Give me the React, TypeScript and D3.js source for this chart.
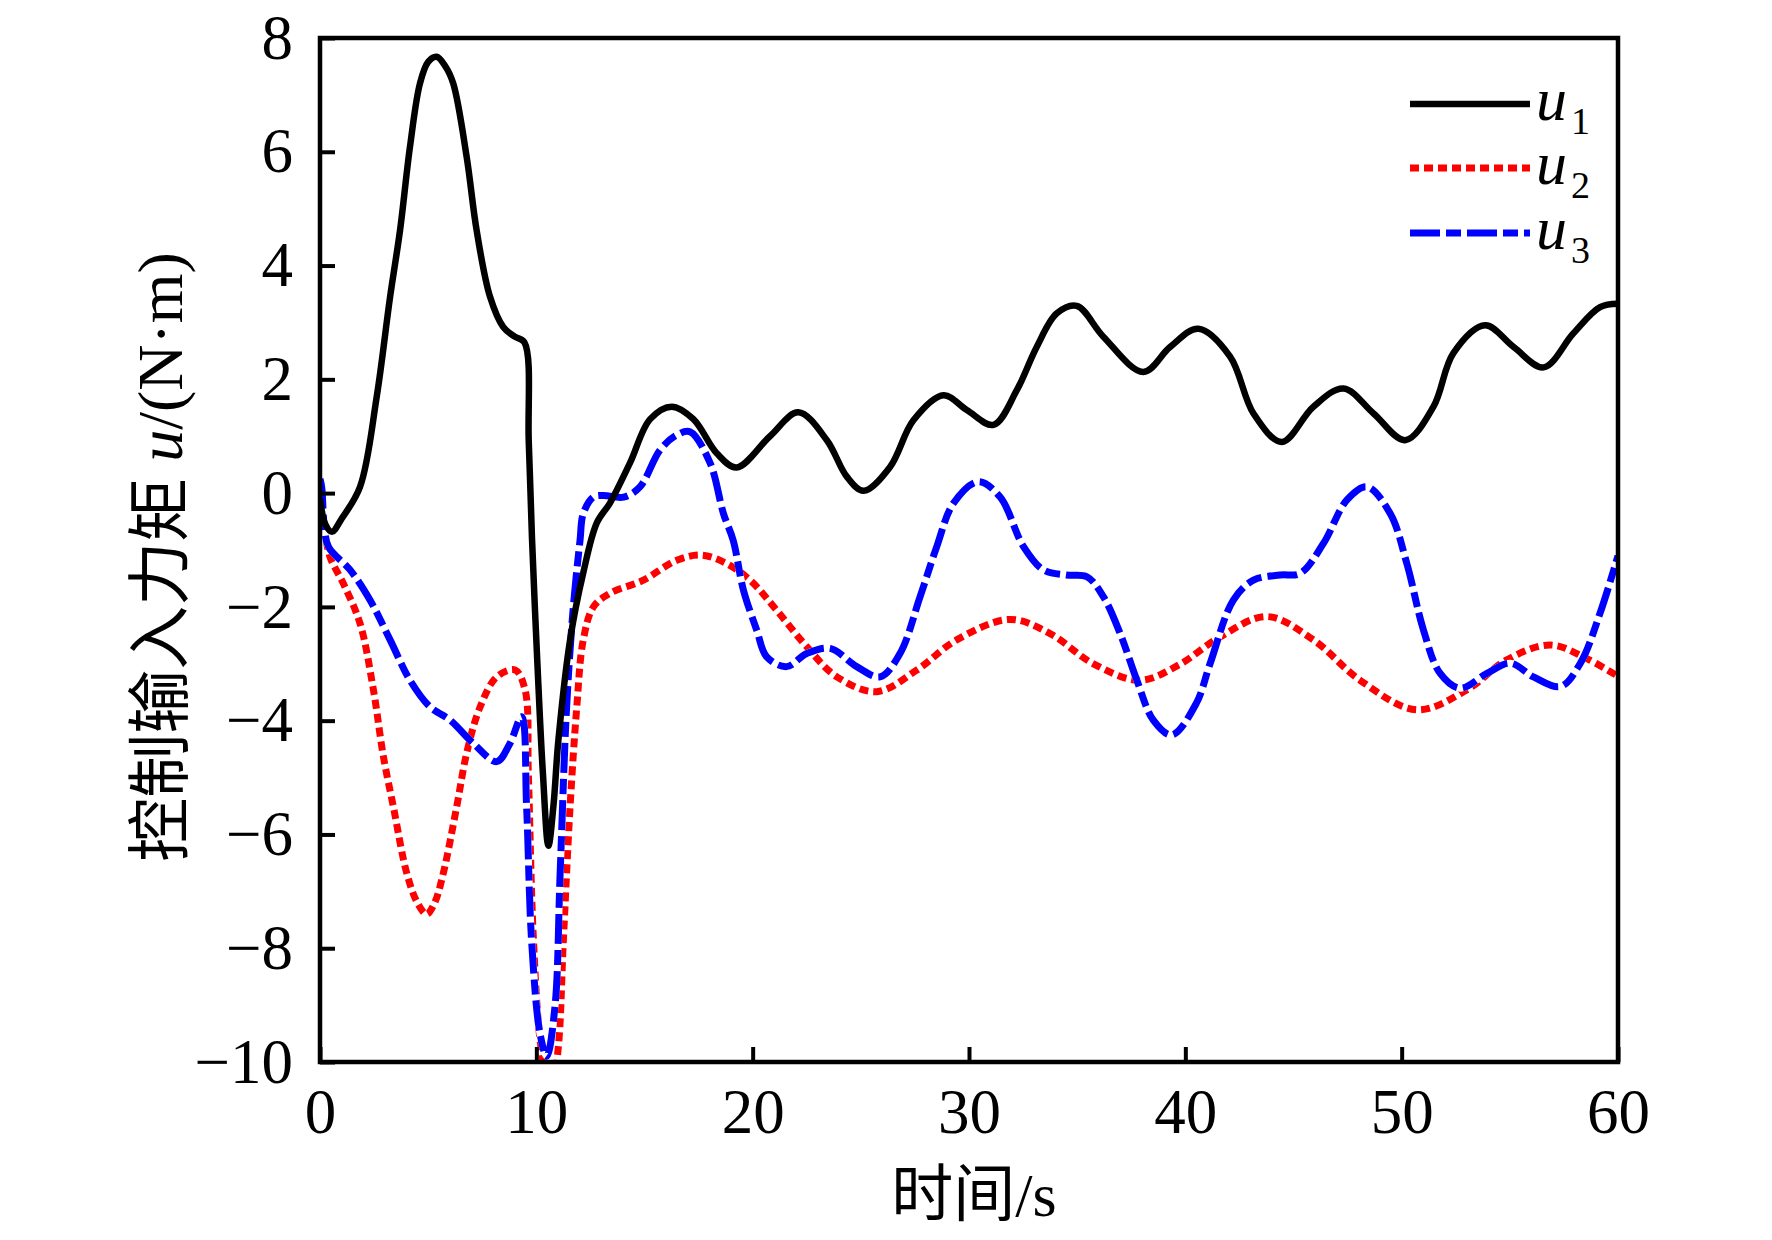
import { useEffect, useRef } from 'react'
import * as d3 from 'd3'

// time samples (s) and torque values (N·m)
const u1Time = [0, 0.25, 0.55, 1.0, 1.85, 2.62, 3.24, 3.7, 4.16, 4.62, 5.0, 5.39, 5.8, 6.16, 6.78, 7.24, 7.86, 8.47, 9.0, 9.45, 9.65, 9.8, 10.05, 10.3, 10.56, 10.79, 11.02, 11.56, 12.17, 12.8, 13.41, 14.33, 15.26, 16.26, 17.26, 18.34, 19.25, 20.8, 22.11, 23.43, 24.35, 25.12, 26.35, 27.43, 28.82, 29.9, 31.13, 32.21, 33.13, 34.06, 34.98, 36.21, 38.06, 39.3, 40.6, 42.07, 43.15, 44.46, 45.92, 47.31, 48.7, 50.16, 51.47, 52.39, 53.86, 55.17, 56.56, 57.94, 59.17, 60]
const u1Value = [-0.1, -0.55, -0.68, -0.45, 0.11, 1.69, 3.45, 4.62, 6.09, 7.2, 7.58, 7.67, 7.5, 7.2, 5.91, 4.62, 3.45, 2.92, 2.75, 2.65, 0.9, -0.8, -3.0, -4.9, -6.2, -5.5, -4.34, -2.58, -1.4, -0.52, -0.17, 0.53, 1.3, 1.52, 1.3, 0.7, 0.45, 1.0, 1.42, 0.93, 0.29, 0.04, 0.46, 1.28, 1.72, 1.46, 1.2, 1.81, 2.57, 3.16, 3.29, 2.75, 2.13, 2.57, 2.89, 2.4, 1.4, 0.9, 1.52, 1.84, 1.4, 0.93, 1.52, 2.46, 2.95, 2.57, 2.21, 2.81, 3.27, 3.33]

const u2Time = [0, 0.2, 0.46, 1.08, 1.85, 2.47, 2.93, 3.39, 4.01, 4.5, 4.93, 5.3, 5.7, 6.32, 6.78, 7.4, 8.17, 9.02, 9.48, 9.63, 9.86, 10.2, 10.65, 11.0, 11.25, 11.56, 11.87, 12.17, 12.64, 13.41, 14.95, 16.49, 17.64, 18.8, 19.88, 21.11, 22.5, 23.89, 25.74, 27.59, 29.43, 31.9, 33.75, 35.75, 37.91, 39.7, 41.6, 43.77, 45.92, 48.08, 50.7, 53.01, 54.86, 56.87, 58.56, 60]
const u2Value = [-0.1, -0.6, -1.12, -1.59, -2.29, -3.46, -4.63, -5.51, -6.68, -7.2, -7.4, -7.2, -6.68, -5.51, -4.57, -3.76, -3.23, -3.11, -3.46, -4.93, -7.8, -9.7, -10.6, -9.8, -7.86, -5.51, -3.76, -2.58, -2.0, -1.76, -1.53, -1.18, -1.09, -1.24, -1.53, -2.06, -2.7, -3.23, -3.49, -3.11, -2.58, -2.22, -2.47, -3.0, -3.29, -3.02, -2.53, -2.17, -2.58, -3.29, -3.81, -3.46, -2.93, -2.67, -2.91, -3.22]

const u3Time = [0, 0.08, 0.2, 0.4, 1.39, 2.31, 3.24, 4.16, 5.09, 6.01, 7.09, 8.17, 8.78, 9.32, 9.55, 9.78, 10.17, 10.48, 10.86, 11.1, 11.4, 11.71, 12.02, 12.17, 12.64, 13.1, 14.03, 14.79, 15.72, 16.49, 17.1, 18.03, 18.65, 19.1, 19.57, 20.19, 20.65, 21.57, 22.5, 23.58, 24.81, 25.89, 26.81, 27.74, 28.51, 29.28, 30.43, 31.44, 32.52, 33.44, 34.52, 35.45, 36.21, 36.99, 37.76, 38.52, 39.37, 40.5, 41.15, 42.22, 43.15, 44.38, 45.31, 46.39, 47.47, 48.39, 49.47, 50.24, 51.01, 51.78, 52.7, 53.94, 55.02, 56.09, 57.34, 58.26, 59.17, 60]
const u3Value = [0.25, 0.1, -0.6, -0.95, -1.35, -1.88, -2.58, -3.29, -3.76, -3.99, -4.4, -4.72, -4.4, -3.93, -5.51, -7.86, -9.5, -9.9, -9.03, -6.68, -3.76, -2.0, -0.83, -0.36, -0.07, -0.04, -0.07, 0.11, 0.76, 1.02, 1.08, 0.53, -0.36, -0.83, -1.7, -2.41, -2.88, -3.05, -2.82, -2.73, -3.05, -3.23, -2.82, -1.82, -0.94, -0.18, 0.2, -0.07, -0.94, -1.35, -1.44, -1.47, -1.82, -2.47, -3.29, -3.99, -4.25, -3.7, -2.99, -1.88, -1.53, -1.44, -1.41, -0.88, -0.12, 0.11, -0.36, -1.24, -2.41, -3.17, -3.43, -3.17, -2.99, -3.23, -3.4, -2.99, -2.11, -1.1]

const xTicks = [0, 10, 20, 30, 40, 50, 60]
const yTicks = [-10, -8, -6, -4, -2, 0, 2, 4, 6, 8]
const seriesNames = ['1', '2', '3']

type Pt = { t: number; v: number }

export default function App() {
  const svgRef = useRef<SVGSVGElement>(null)

  useEffect(() => {
    if (!svgRef.current) return
    document.body.style.margin = '0'

    const svg = d3.select(svgRef.current)
    svg.selectAll('*').remove()

    const width = 1772
    const height = 1240
    const left = 320
    const right = 1618
    const top = 38
    const bottom = 1062
    const serif = '"Liberation Serif", "Times New Roman", "Noto Sans CJK SC", serif'

    svg.attr('viewBox', `0 0 ${width} ${height}`)
    svg.append('rect').attr('width', width).attr('height', height).attr('fill', '#fff')

    const x = d3.scaleLinear().domain([0, 60]).range([left, right])
    const y = d3.scaleLinear().domain([-10, 8]).range([bottom, top])

    svg.append('defs').append('clipPath').attr('id', 'plot-clip')
      .append('rect')
      .attr('x', left).attr('y', top)
      .attr('width', right - left).attr('height', bottom - top)

    const line = d3.line<Pt>()
      .x(d => x(d.t))
      .y(d => y(d.v))
      .curve(d3.curveCatmullRom.alpha(0.5))

    const zip = (ts: number[], vs: number[]) => ts.map((t, i) => ({ t, v: vs[i] }))
    const u1 = zip(u1Time, u1Value)
    const u2 = zip(u2Time, u2Value)
    const u3 = zip(u3Time, u3Value)

    const plot = svg.append('g').attr('clip-path', 'url(#plot-clip)')

    // red dotted
    plot.append('path').datum(u2)
      .attr('fill', 'none').attr('stroke', '#ff0000').attr('stroke-width', 7)
      .attr('stroke-dasharray', '9,5')
      .attr('d', line)

    // blue dash-dot with white gaps
    plot.append('path').datum(u3)
      .attr('fill', 'none').attr('stroke', '#fff').attr('stroke-width', 7)
      .attr('d', line)
    plot.append('path').datum(u3)
      .attr('fill', 'none').attr('stroke', '#0000ff').attr('stroke-width', 7)
      .attr('stroke-dasharray', '30,6,15,6')
      .attr('d', line)

    // black solid
    plot.append('path').datum(u1)
      .attr('fill', 'none').attr('stroke', '#000').attr('stroke-width', 6.5)
      .attr('stroke-linejoin', 'round')
      .attr('d', line)

    // axes (ticks pointing inward)
    const xAxis = svg.append('g')
      .attr('transform', `translate(0,${bottom})`)
      .call(d3.axisBottom(x).tickValues(xTicks).tickSizeInner(-15).tickSizeOuter(0).tickPadding(26))
    const yAxis = svg.append('g')
      .attr('transform', `translate(${left},0)`)
      .call(d3.axisLeft(y).tickValues(yTicks).tickSizeInner(-15).tickSizeOuter(0).tickPadding(27))

    for (const ax of [xAxis, yAxis]) {
      ax.select('.domain').remove()
      ax.attr('font-family', serif).attr('font-size', 63)
      ax.selectAll('line').attr('stroke', '#000').attr('stroke-width', 4)
      ax.selectAll('text').attr('fill', '#000')
    }

    svg.append('rect')
      .attr('x', left).attr('y', top)
      .attr('width', right - left).attr('height', bottom - top)
      .attr('fill', 'none').attr('stroke', '#000').attr('stroke-width', 4.5)

    // axis titles
    svg.append('text')
      .attr('x', 974).attr('y', 1216)
      .attr('text-anchor', 'middle')
      .attr('font-family', serif).attr('font-size', 62)
      .text('时间/s')

    const yTitle = svg.append('text')
      .attr('transform', 'translate(182,557) rotate(-90)')
      .attr('text-anchor', 'middle')
      .attr('font-family', serif).attr('font-size', 64)
    yTitle.append('tspan').text('控制输入力矩 ')
    yTitle.append('tspan').attr('font-style', 'italic').text('u')
    yTitle.append('tspan').text('/(N·m)')

    // legend
    const legendStyles = [
      { color: '#000', dash: null, width: 6.5 },
      { color: '#ff0000', dash: '9,5', width: 7 },
      { color: '#0000ff', dash: '30,6,15,6', width: 7 },
    ]
    const legendY = [104, 168, 233]
    seriesNames.forEach((name, i) => {
      const g = svg.append('g').attr('transform', `translate(0,${legendY[i]})`)
      const l = g.append('line')
        .attr('x1', 1410).attr('x2', 1530)
        .attr('stroke', legendStyles[i].color)
        .attr('stroke-width', legendStyles[i].width)
      if (legendStyles[i].dash) l.attr('stroke-dasharray', legendStyles[i].dash)
      const t = g.append('text')
        .attr('x', 1536).attr('y', 16)
        .attr('font-family', serif).attr('font-size', 62)
      t.append('tspan').attr('font-style', 'italic').text('u')
      t.append('tspan').attr('font-size', 38).attr('dx', 4).attr('dy', 14).text(name)
    })
  }, [])

  return (
    <svg ref={svgRef} width={1772} height={1240} style={{ display: 'block' }} />
  )
}
